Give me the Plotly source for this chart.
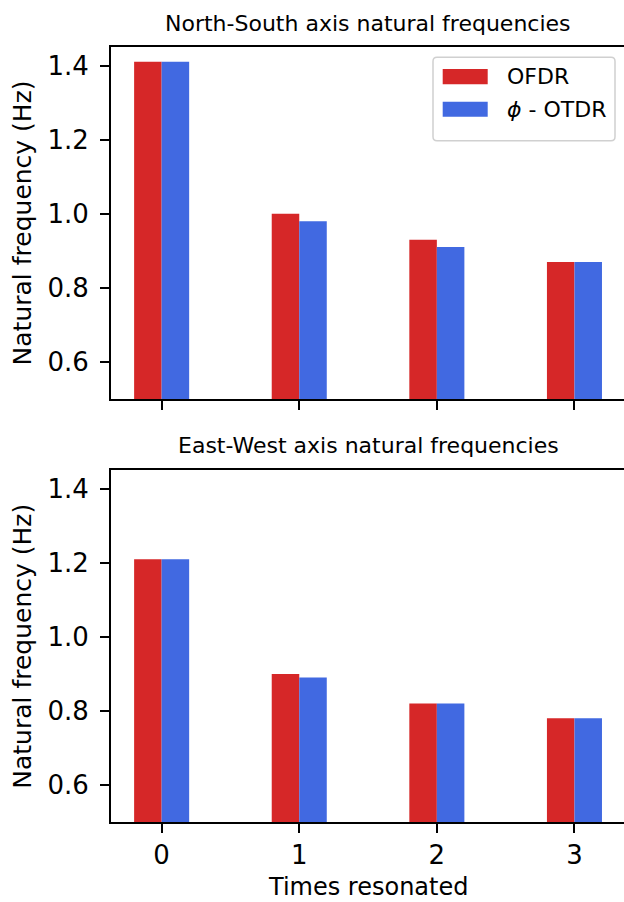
import plotly.graph_objects as go

# ---------------- data ----------------
times = [0, 1, 2, 3]
ns_ofdr = [1.41, 1.00, 0.93, 0.87]
ns_potdr = [1.41, 0.98, 0.91, 0.87]
ew_ofdr = [1.21, 0.90, 0.82, 0.78]
ew_potdr = [1.21, 0.89, 0.82, 0.78]
y_ticks = [0.6, 0.8, 1.0, 1.2, 1.4]
x_ticks = [0, 1, 2, 3]
series_names = ["OFDR", "<i>ϕ</i> - OTDR"]
panel_titles = ["North-South axis natural frequencies", "East-West axis natural frequencies"]
y_label = "Natural frequency (Hz)"
x_label = "Times resonated"

RED = "#d62728"
BLUE = "#4169e1"
FONT = "DejaVu Sans"

W, H = 624, 902
ML, MR, MT, MB = 111, 0, 47, 80


def px(x):
    return (x - ML) / (W - ML - MR)


def py(y):
    return (H - MB - y) / (H - MT - MB)


fig = go.Figure()
fig.add_trace(go.Bar(x=times, y=ns_ofdr, name=series_names[0], marker=dict(color=RED, line=dict(width=0)),
                     xaxis="x", yaxis="y", showlegend=False))
fig.add_trace(go.Bar(x=times, y=ns_potdr, name=series_names[1], marker=dict(color=BLUE, line=dict(width=0)),
                     xaxis="x", yaxis="y", showlegend=False))
fig.add_trace(go.Bar(x=times, y=ew_ofdr, name=series_names[0], marker=dict(color=RED, line=dict(width=0)),
                     xaxis="x2", yaxis="y2", showlegend=False))
fig.add_trace(go.Bar(x=times, y=ew_potdr, name=series_names[1], marker=dict(color=BLUE, line=dict(width=0)),
                     xaxis="x2", yaxis="y2", showlegend=False))

xrange = [-0.368, 3.360]
yrange = [0.5, 1.45]

xcommon = dict(range=xrange, tickvals=x_ticks, ticks="outside", ticklen=9, tickwidth=2, tickcolor="black",
               showline=True, linecolor="black", linewidth=2, mirror=True, showgrid=False, zeroline=False,
               tickfont=dict(family=FONT, size=26, color="black"), ticklabelstandoff=0)
ycommon = dict(range=yrange, tickvals=y_ticks, tickformat=".1f", ticks="outside", ticklen=9, tickwidth=2,
               tickcolor="black", showline=True, linecolor="black", linewidth=2, mirror=False, showgrid=False,
               zeroline=False, tickfont=dict(family=FONT, size=26, color="black"), ticklabelstandoff=6)

fig.update_layout(
    width=W, height=H,
    margin=dict(l=ML, r=MR, t=MT, b=MB, pad=0),
    paper_bgcolor="white", plot_bgcolor="white",
    barmode="group", bargap=0.6, bargroupgap=0,
    font=dict(family=FONT, color="black"),
    xaxis=dict(domain=[0, 1], anchor="y", showticklabels=False, **xcommon),
    yaxis=dict(domain=[py(399), 1], anchor="x", **ycommon),
    xaxis2=dict(domain=[0, 1], anchor="y2", showticklabels=True, **xcommon),
    yaxis2=dict(domain=[0, py(470.3)], anchor="x2", **ycommon),
)

ann = []
# panel titles
ann.append(dict(text=panel_titles[0], x=px(368), y=py(23.5), xref="paper", yref="paper",
                xanchor="center", yanchor="middle", showarrow=False, font=dict(size=22, family=FONT)))
ann.append(dict(text=panel_titles[1], x=px(368), y=py(445.5), xref="paper", yref="paper",
                xanchor="center", yanchor="middle", showarrow=False, font=dict(size=22, family=FONT)))
# y labels
for yc in (222.9, 646.2):
    ann.append(dict(text=y_label, x=px(22.5), y=py(yc), xref="paper", yref="paper", textangle=-90,
                    xanchor="center", yanchor="middle", showarrow=False, font=dict(size=25, family=FONT)))
# x label
ann.append(dict(text=x_label, x=px(368), y=py(887), xref="paper", yref="paper",
                xanchor="center", yanchor="middle", showarrow=False, font=dict(size=24, family=FONT)))
# legend texts
ann.append(dict(text=series_names[0], x=px(505), y=py(77), xref="paper", yref="paper",
                xanchor="left", yanchor="middle", showarrow=False, font=dict(size=22, family=FONT)))
ann.append(dict(text=series_names[1], x=px(505), y=py(109.5), xref="paper", yref="paper",
                xanchor="left", yanchor="middle", showarrow=False, font=dict(size=22, family=FONT)))
fig.update_layout(annotations=ann)

# legend frame (rounded) and patches
x0, x1, y0, y1, r = 433, 615, 57.3, 140.7, 4
path = (f"M {px(x0 + r)},{py(y0)} L {px(x1 - r)},{py(y0)} Q {px(x1)},{py(y0)} {px(x1)},{py(y0 + r)} "
        f"L {px(x1)},{py(y1 - r)} Q {px(x1)},{py(y1)} {px(x1 - r)},{py(y1)} "
        f"L {px(x0 + r)},{py(y1)} Q {px(x0)},{py(y1)} {px(x0)},{py(y1 - r)} "
        f"L {px(x0)},{py(y0 + r)} Q {px(x0)},{py(y0)} {px(x0 + r)},{py(y0)} Z")
shapes = [
    dict(type="path", path=path, xref="paper", yref="paper", fillcolor="rgba(255,255,255,0.8)",
         line=dict(color="#d0d0d0", width=1.5), layer="above"),
    dict(type="rect", x0=px(442.7), x1=px(487.7), y0=py(84.3), y1=py(69), xref="paper", yref="paper",
         fillcolor=RED, line=dict(width=0), layer="above"),
    dict(type="rect", x0=px(442.7), x1=px(487.7), y0=py(116.7), y1=py(101.7), xref="paper", yref="paper",
         fillcolor=BLUE, line=dict(width=0), layer="above"),
]
fig.update_layout(shapes=shapes)

fig.write_html("out.html")
